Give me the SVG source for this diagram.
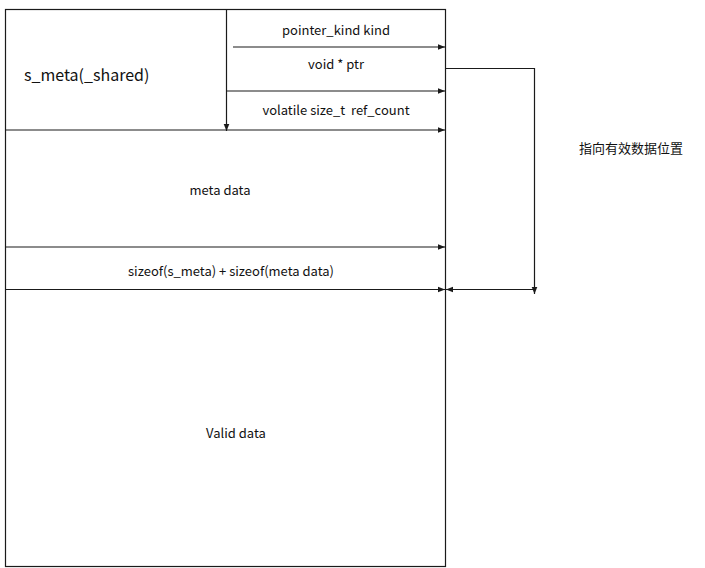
<svg xmlns="http://www.w3.org/2000/svg" width="705" height="568" viewBox="0 0 705 568">
<defs>
<marker id="ah" viewBox="0 0 10 10" refX="10" refY="5" markerWidth="7" markerHeight="7" markerUnits="userSpaceOnUse" orient="auto">
<path d="M0,1 L10,5 L0,9 Z" fill="#1a1a1a"/>
</marker>
</defs>
<style>
.ln{stroke:#1a1a1a;stroke-width:1.2;fill:none}
.t{font-family:"Noto Sans CJK SC","Noto Sans",sans-serif;font-size:13px;fill:#111;text-anchor:middle;white-space:pre}
</style>
<rect width="705" height="568" fill="#fff"/>
<g id="block">
<rect x="5.5" y="9.5" width="440" height="557" fill="#fff" stroke="#1a1a1a" stroke-width="1.2"/>
</g>
<g id="s_meta">
<text x="24" y="81" style="font-family:'Noto Sans CJK SC','Noto Sans',sans-serif;font-size:16px;fill:#111">s_meta(_shared)</text>
</g>
<g id="fields">
<text class="t" x="336" y="35">pointer_kind kind</text>
<text class="t" x="336" y="69">void * ptr</text>
<text class="t" x="336" y="115" xml:space="preserve">volatile size_t  ref_count</text>
</g>
<g id="meta_data"><text class="t" x="220" y="195">meta data</text></g>
<g id="offset"><text class="t" x="231" y="276">sizeof(s_meta) + sizeof(meta data)</text></g>
<g id="valid_data"><text class="t" x="236" y="438">Valid data</text></g>
<g id="note"><text class="t" x="631" y="153">指向有效数据位置</text></g>
<g id="connectors">
<line class="ln" x1="226.5" y1="9.5" x2="226.5" y2="131" marker-end="url(#ah)"/>
<line class="ln" x1="233" y1="47" x2="445" y2="47" marker-end="url(#ah)"/>
<line class="ln" x1="226.5" y1="91" x2="445" y2="91" marker-end="url(#ah)"/>
<line class="ln" x1="5.5" y1="130" x2="445" y2="130" marker-end="url(#ah)"/>
<line class="ln" x1="5.5" y1="247" x2="445" y2="247" marker-end="url(#ah)"/>
<line class="ln" x1="5.5" y1="289.5" x2="445" y2="289.5" marker-end="url(#ah)"/>
<polyline class="ln" points="445.5,68.5 534.5,68.5 534.5,294" marker-end="url(#ah)"/>
<line class="ln" x1="534.5" y1="289.5" x2="446" y2="289.5" marker-end="url(#ah)"/>
</g>
</svg>
